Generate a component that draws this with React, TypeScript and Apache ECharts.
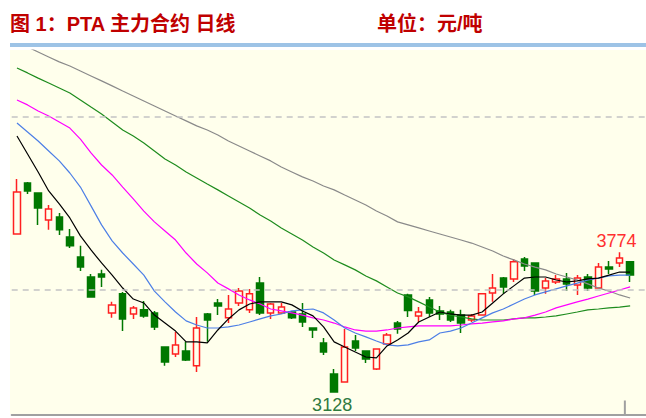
import React, { useEffect, useRef } from "react";
import * as echarts from "echarts";

// [open, close, lowest, highest]
const candles = [
  [3859, 4053, 3859, 4113],
  [4095, 4058, 4044, 4100],
  [4049, 3979, 3901, 4049],
  [3924, 3975, 3878, 3993],
  [3938, 3878, 3854, 3956],
  [3845, 3804, 3794, 3882],
  [3753, 3706, 3688, 3804],
  [3660, 3568, 3568, 3674],
  [3674, 3660, 3614, 3693],
  [3494, 3531, 3471, 3545],
  [3582, 3466, 3410, 3591],
  [3489, 3517, 3466, 3526],
  [3508, 3480, 3471, 3549],
  [3494, 3429, 3415, 3503],
  [3336, 3267, 3249, 3336],
  [3304, 3346, 3290, 3406],
  [3318, 3276, 3272, 3360],
  [3249, 3424, 3221, 3475],
  [3489, 3461, 3360, 3494],
  [3540, 3526, 3484, 3558],
  [3471, 3512, 3447, 3577],
  [3540, 3595, 3526, 3609],
  [3508, 3582, 3494, 3605],
  [3632, 3494, 3484, 3660],
  [3494, 3535, 3466, 3540],
  [3494, 3521, 3489, 3540],
  [3498, 3471, 3466, 3503],
  [3489, 3452, 3429, 3540],
  [3424, 3415, 3378, 3424],
  [3355, 3313, 3299, 3378],
  [3211, 3128, 3128, 3235],
  [3174, 3336, 3174, 3420],
  [3364, 3332, 3318, 3392],
  [3318, 3281, 3262, 3318],
  [3235, 3327, 3230, 3327],
  [3350, 3392, 3350, 3401],
  [3447, 3420, 3397, 3457],
  [3577, 3505, 3475, 3582],
  [3480, 3498, 3452, 3521],
  [3554, 3494, 3475, 3568],
  [3503, 3489, 3461, 3526],
  [3498, 3461, 3452, 3508],
  [3484, 3447, 3401, 3508],
  [3461, 3480, 3452, 3489],
  [3484, 3582, 3484, 3582],
  [3586, 3609, 3545, 3674],
  [3655, 3614, 3582, 3660],
  [3651, 3730, 3637, 3743],
  [3743, 3711, 3688, 3753],
  [3725, 3595, 3577, 3725],
  [3609, 3642, 3582, 3655],
  [3637, 3651, 3628, 3669],
  [3651, 3628, 3595, 3679],
  [3623, 3655, 3577, 3669],
  [3660, 3609, 3595, 3674],
  [3609, 3706, 3609, 3725],
  [3706, 3697, 3674, 3734],
  [3725, 3748, 3706, 3774],
  [3730, 3669, 3637, 3734],
];

const ma5 = [4312, 4229, 4146, 4058, 3998, 3933, 3850, 3785, 3725, 3669, 3609, 3558, 3540, 3484, 3447, 3410, 3360, 3360, 3355, 3415, 3466, 3508, 3535, 3545, 3545, 3545, 3531, 3503, 3480, 3429, 3360, 3336, 3313, 3290, 3286, 3341, 3369, 3401, 3452, 3475, 3498, 3489, 3484, 3484, 3498, 3540, 3582, 3619, 3655, 3660, 3660, 3646, 3637, 3642, 3651, 3655, 3669, 3683, 3683];
const ma10 = [4372, 4331, 4289, 4243, 4197, 4141, 4076, 3989, 3901, 3827, 3771, 3720, 3669, 3595, 3545, 3498, 3457, 3438, 3424, 3424, 3429, 3438, 3452, 3466, 3480, 3489, 3503, 3508, 3512, 3494, 3461, 3424, 3401, 3383, 3364, 3346, 3341, 3346, 3360, 3369, 3401, 3410, 3424, 3447, 3471, 3494, 3512, 3535, 3558, 3577, 3591, 3605, 3619, 3632, 3646, 3655, 3665, 3669, 3669];
const ma20 = [4479, 4456, 4428, 4405, 4377, 4349, 4298, 4234, 4178, 4132, 4076, 4021, 3965, 3915, 3873, 3831, 3771, 3720, 3679, 3632, 3605, 3577, 3554, 3535, 3512, 3503, 3494, 3484, 3471, 3461, 3447, 3429, 3415, 3410, 3410, 3415, 3424, 3429, 3434, 3434, 3434, 3434, 3438, 3443, 3447, 3452, 3457, 3466, 3471, 3484, 3498, 3517, 3531, 3545, 3558, 3572, 3586, 3600, 3614];
const ma40 = [4627, 4604, 4580, 4557, 4534, 4511, 4479, 4446, 4414, 4377, 4340, 4312, 4280, 4243, 4206, 4178, 4146, 4118, 4090, 4063, 4035, 4007, 3979, 3947, 3919, 3887, 3859, 3831, 3799, 3771, 3739, 3716, 3693, 3665, 3642, 3614, 3586, 3568, 3545, 3521, 3498, 3484, 3475, 3466, 3461, 3461, 3461, 3466, 3471, 3471, 3475, 3480, 3489, 3498, 3508, 3512, 3517, 3521, 3526];
const ma60 = [4742, 4724, 4701, 4678, 4655, 4636, 4613, 4590, 4567, 4544, 4520, 4497, 4474, 4451, 4428, 4405, 4382, 4359, 4340, 4317, 4289, 4266, 4243, 4220, 4197, 4169, 4146, 4123, 4104, 4081, 4063, 4039, 4016, 3993, 3965, 3942, 3915, 3901, 3887, 3873, 3859, 3845, 3831, 3817, 3799, 3780, 3757, 3739, 3720, 3706, 3693, 3674, 3660, 3646, 3628, 3609, 3595, 3577, 3563];

const categories = Array.from({ length: 60 }, (_, i) => "D" + (i + 1));
const refLevels = [3600, 4400];
const peakIndex = 57;
const lowIndex = 30;
const tickIndex = 58;
const yMin = 3024;
const yMax = 4710;

const TITLE = "图 1：PTA 主力合约 日线";
const UNIT = "单位：元/吨";

export default function App() {
  const ref = useRef<HTMLDivElement>(null);
  useEffect(() => {
    if (!ref.current) return;
    const chart = echarts.init(ref.current, undefined, { renderer: "svg" });
    const peakValue = candles[peakIndex][3];
    const lowValue = candles[lowIndex][2];
    const titleFont = 'bold 20px "Liberation Sans", "Noto Sans CJK SC", sans-serif';
    const line = (name: string, data: number[], color: string) => ({
      name,
      type: "line",
      data,
      symbol: "none",
      showSymbol: false,
      z: 3,
      silent: true,
      lineStyle: { color, width: 1.2 },
    });
    const baseGraphic: any[] = [
      { id: "bg", type: "rect", z: -10, silent: true, shape: { x: 10, y: 50, width: 636, height: 364 }, style: { fill: "#FFFFEC" } },
      { id: "bar", type: "rect", silent: true, shape: { x: 10, y: 43, width: 636, height: 4 }, style: { fill: "#9DC3E6" } },
      { id: "t1", type: "text", x: 10, y: 24, style: { text: TITLE, font: titleFont, fill: "#C00000", verticalAlign: "middle" } },
      { id: "t2", type: "text", x: 377, y: 24, style: { text: UNIT, font: titleFont, fill: "#C00000", verticalAlign: "middle" } },
    ];
    chart.setOption({
      animation: false,
      backgroundColor: "#FFFFFF",
      graphic: baseGraphic,
      grid: { left: 11.7, top: 50, width: 638.4, height: 364.5 },
      xAxis: {
        type: "category",
        data: categories,
        boundaryGap: true,
        axisLine: { show: true, lineStyle: { color: "#A0A0A0", width: 2 } },
        axisTick: { show: false },
        axisLabel: { show: false },
        splitLine: { show: false },
      },
      yAxis: { type: "value", min: yMin, max: yMax, show: false, splitLine: { show: false } },
      series: [
        {
          type: "line",
          data: [],
          z: 1,
          silent: true,
          markLine: {
            silent: true,
            symbol: ["none", "none"],
            label: { show: false },
            lineStyle: { color: "#C4C4C4", type: [6, 5], width: 1.5 },
            data: refLevels.map((v) => ({ yAxis: v })),
          },
        },
        {
          type: "candlestick",
          data: candles,
          barWidth: 7,
          z: 2,
          itemStyle: {
            color: "#FFFFEC",
            color0: "#007800",
            borderColor: "#FF2020",
            borderColor0: "#007800",
            borderWidth: 1.5,
          },
          markPoint: {
            symbol: "circle",
            symbolSize: 0,
            label: { show: true, formatter: "{c}", fontSize: 18, fontFamily: "Liberation Sans" },
            data: [
              { coord: [categories[peakIndex], peakValue], value: peakValue, label: { offset: [-3, -11], color: "#FF3030" } },
              { coord: [categories[lowIndex], lowValue], value: lowValue, label: { offset: [-2, 13], color: "#2F7A3F" } },
            ],
          },
        },
        line("MA60", ma60, "#8A8A8A"),
        line("MA40", ma40, "#1E8C1E"),
        line("MA20", ma20, "#FF00FF"),
        line("MA10", ma10, "#4D7FE6"),
        line("MA5", ma5, "#000000"),
      ],
    });
    // separator tick on the category boundary, placed through the axis scales
    const xa = chart.convertToPixel({ xAxisIndex: 0 }, categories[tickIndex - 1]) as number;
    const xb = chart.convertToPixel({ xAxisIndex: 0 }, categories[tickIndex]) as number;
    const yBase = chart.convertToPixel({ yAxisIndex: 0 }, yMin) as number;
    const xt = (xa + xb) / 2;
    chart.setOption({
      graphic: [
        ...baseGraphic,
        { id: "tick", type: "line", silent: true, shape: { x1: xt, y1: yBase - 14, x2: xt, y2: yBase }, style: { stroke: "#A0A0A0", lineWidth: 2 } },
      ],
    });
    return () => chart.dispose();
  }, []);
  return <div ref={ref} style={{ position: "absolute", left: 0, top: 0, width: 646, height: 418 }} />;
}
